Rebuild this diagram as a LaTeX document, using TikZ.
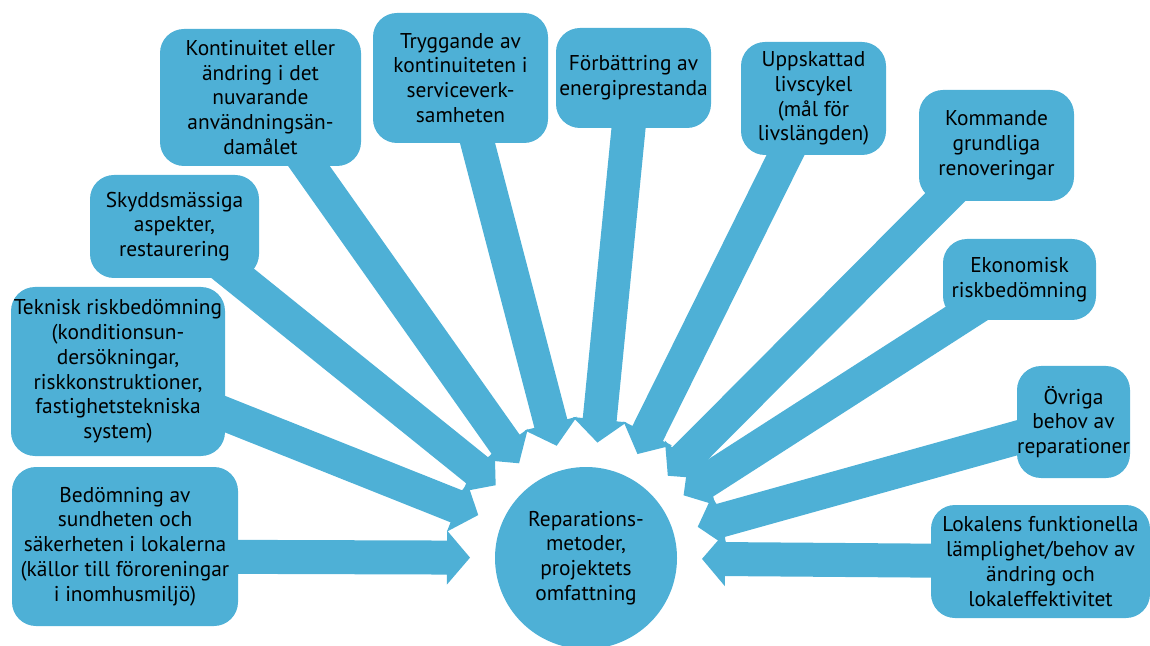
\documentclass[tikz,border=0pt]{standalone}
\usepackage{fontspec}
\setmainfont{PT Sans}
\usetikzlibrary{calc}
\usetikzlibrary{backgrounds}

\definecolor{boxblue}{RGB}{78,176,214}

\tikzset{
  topic/.style={rectangle, rounded corners=12pt, fill=boxblue, align=center,
    inner sep=0pt, font=\fontsize{10.7}{12.4}\selectfont},
  hub/.style={circle, fill=boxblue, minimum size=91pt, inner sep=0pt,
    align=center, font=\fontsize{10.7}{12.4}\selectfont}
}

% block arrow from the centre of a box (shifted by #2) to a point in front of the hub
\newcommand\blockarrow[3]{%
  \coordinate (start) at ($(#1.center)+(0,#2)$);
  \coordinate (tip) at ($(#3.center)!58pt!(start)$);
  \coordinate (neck) at ($(tip)!11.5pt!(start)$);
  \fill[boxblue] ($(start)!8.5pt!90:(tip)$) -- ($(neck)!8.5pt!90:(tip)$)
    -- ($(neck)!13.5pt!90:(tip)$) -- (tip) -- ($(neck)!13.5pt!-90:(tip)$)
    -- ($(neck)!8.5pt!-90:(tip)$) -- ($(start)!8.5pt!-90:(tip)$) -- cycle;
}

\begin{document}
\begin{tikzpicture}[x=0.5pt, y=-0.5pt]
  \useasboundingbox (0,0) rectangle (1150,646);

  \node[hub] (hub) at (586,558) {Reparations-\\metoder,\\projektets\\omfattning};

  % left side
  \node[topic, minimum width=113pt, minimum height=79.5pt] (bed) at (125,546.5)
    {Bedömning av\\sundheten och\\säkerheten i lokalerna\\(källor till föroreningar\\i inomhusmiljö)};
  \node[topic, minimum width=107pt, minimum height=84.5pt] (tek) at (118,371.5)
    {Teknisk riskbedömning\\(konditionsun-\\dersökningar,\\riskkonstruktioner,\\fastighetstekniska\\system)};
  \node[topic, minimum width=84.5pt, minimum height=51.5pt] (sky) at (174.5,226.5)
    {Skyddsmässiga\\aspekter,\\restaurering};
  \node[topic, minimum width=100.5pt, minimum height=68.5pt] (kon) at (260.5,97.5)
    {Kontinuitet eller\\ändring i det\\nuvarande\\användningsän-\\damålet};
  \node[topic, minimum width=87.5pt, minimum height=65pt] (try) at (460.5,78)
    {Tryggande av\\kontinuiteten i\\serviceverk-\\samheten};

  % right side
  \node[topic, minimum width=77.5pt, minimum height=50pt] (for) at (633.5,78)
    {Förbättring av\\energiprestanda};
  \node[topic, minimum width=72.5pt, minimum height=56.5pt] (upp) at (813.5,98.5)
    {Uppskattad\\livscykel\\(mål för\\livslängden)};
  \node[topic, minimum width=77.5pt, minimum height=55.5pt] (kom) at (996.5,145.5)
    {Kommande\\grundliga\\renoveringar};
  \node[topic, minimum width=76.5pt, minimum height=40.5pt] (eko) at (1019.5,279.5)
    {Ekonomisk\\riskbedömning};
  \node[topic, minimum width=56.5pt, minimum height=56pt] (ovr) at (1073.5,422)
    {Övriga\\behov av\\reparationer};
  \node[topic, minimum width=109.5pt, minimum height=56.5pt] (lok) at (1040.5,561.5)
    {Lokalens funktionella\\lämplighet/behov av\\ändring och\\lokaleffektivitet};

  \begin{scope}[on background layer]
    \foreach \b/\dy in {bed/10, tek/0, sky/0, kon/0, try/0, for/0, upp/0,
                        kom/0, eko/0, ovr/0, lok/0}
      {\blockarrow{\b}{\dy}{hub}}
  \end{scope}

\end{tikzpicture}
\end{document}
